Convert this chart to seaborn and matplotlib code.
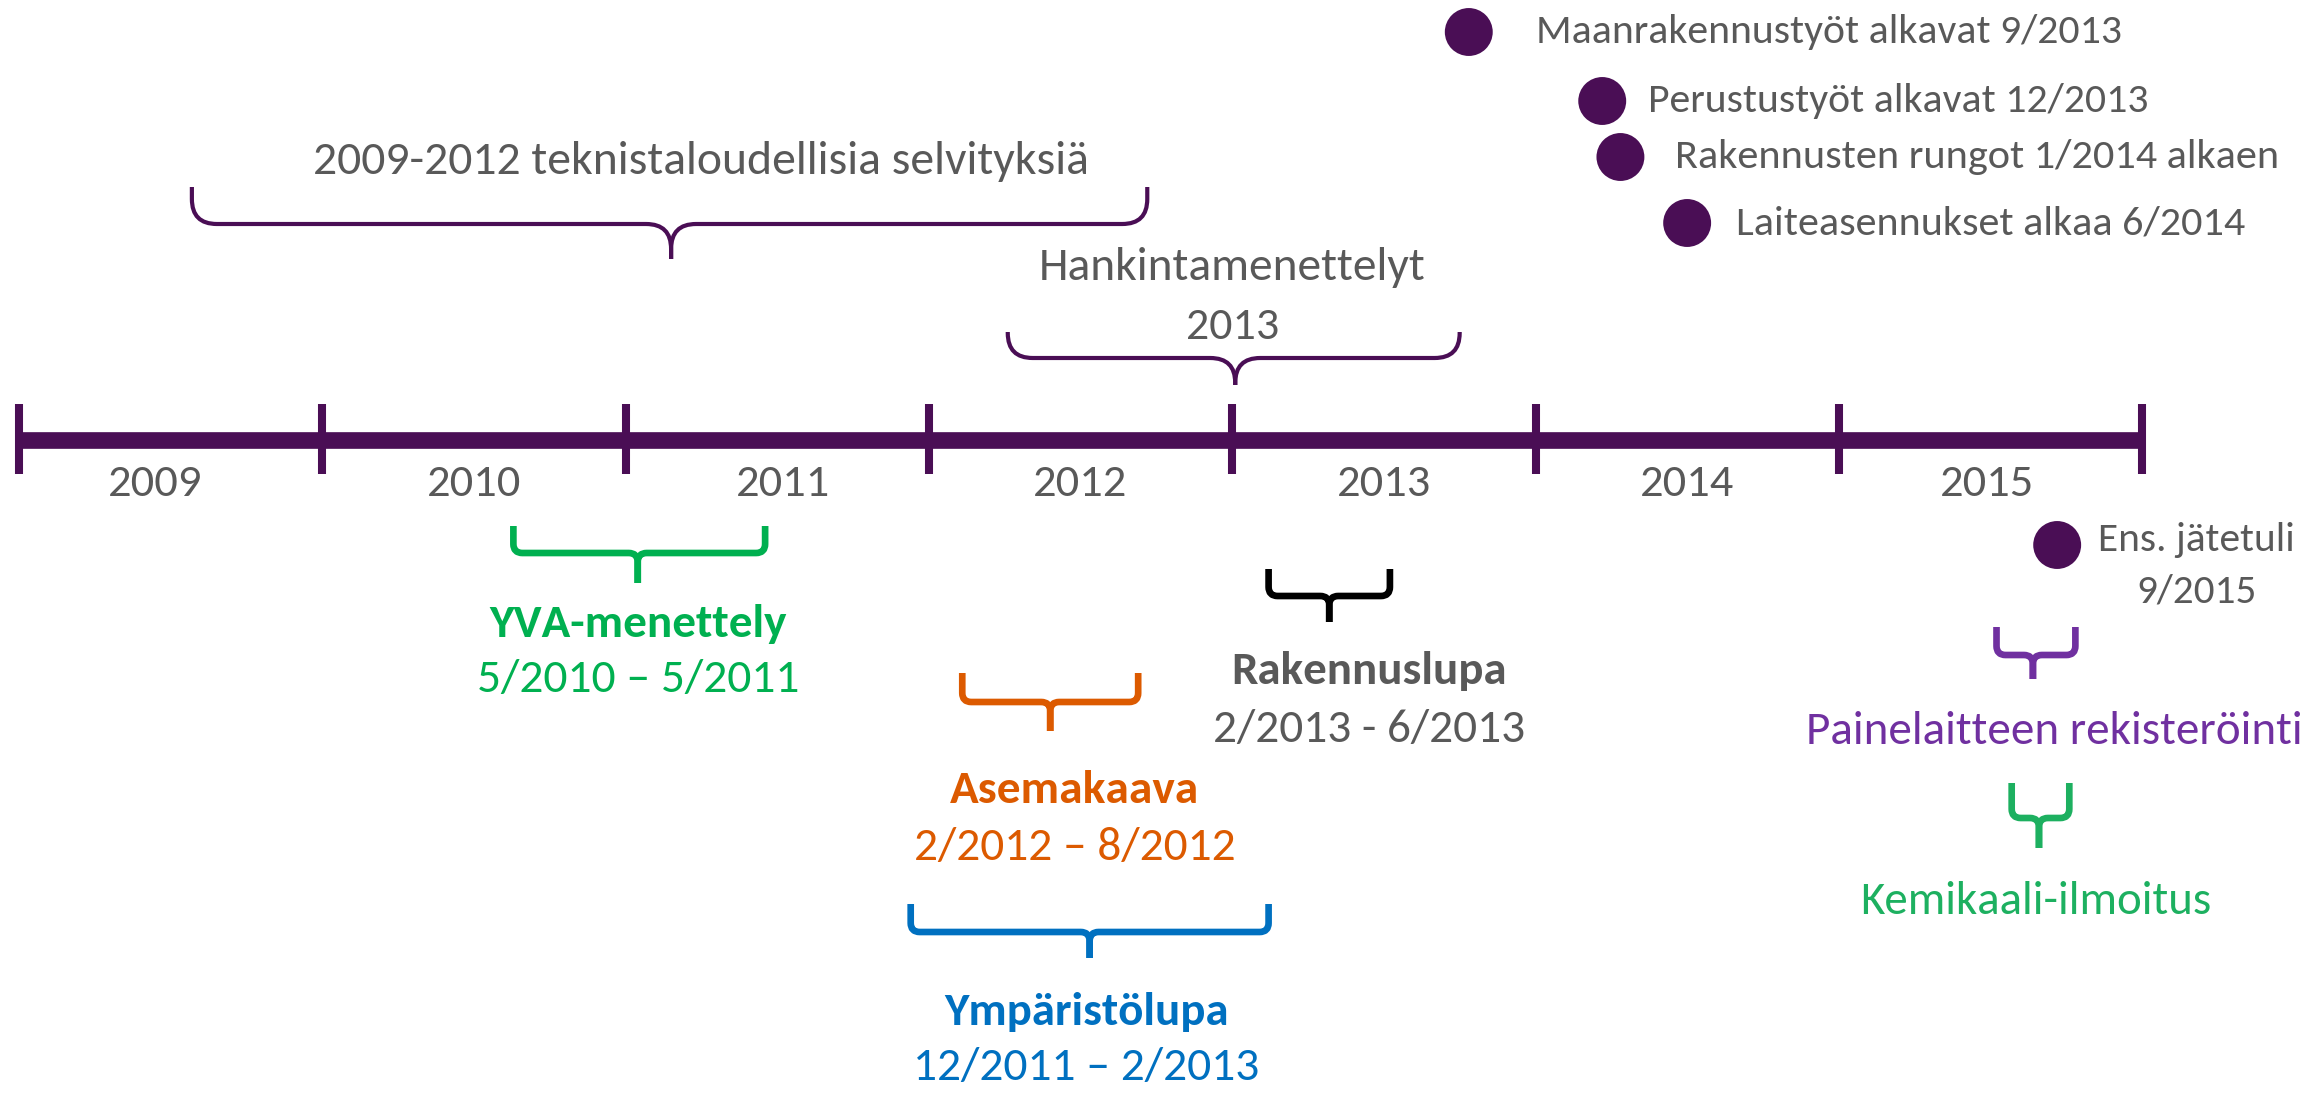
import matplotlib
matplotlib.use("Agg")
import matplotlib.pyplot as plt
from matplotlib.path import Path
from matplotlib.patches import PathPatch
from matplotlib import font_manager
import seaborn as sns

# timeline years and their labels
years = [2009, 2010, 2011, 2012, 2013, 2014, 2015]
year_label_x = [2009.45, 2010.5, 2011.52, 2012.5, 2013.5, 2014.5, 2015.49]

# milestones shown as dots
events = ["Maanrakennustyöt alkavat 9/2013", "Perustustyöt alkavat 12/2013",
          "Rakennusten rungot 1/2014 alkaen", "Laiteasennukset alkaa 6/2014",
          "Ens. jätetuli\n9/2015"]
event_x = [2013.78, 2014.22, 2014.28, 2014.50, 2015.72]
event_label_x = [2014.00, 2014.37, 2014.46, 2014.66, 2016.18]

# phases drawn as braces
phases = ["2009-2012 teknistaloudellisia selvityksiä", "Hankintamenettelyt\n2013",
          "YVA-menettely", "Rakennuslupa", "Asemakaava", "Ympäristölupa",
          "Painelaitteen rekisteröinti", "Kemikaali-ilmoitus"]
phase_dates = ["", "", "5/2010 – 5/2011", "2/2013 - 6/2013", "2/2012 – 8/2012",
               "12/2011 – 2/2013", "", ""]
phase_start = [2009.57, 2012.26, 2010.63, 2013.12, 2012.11, 2011.94, 2015.52, 2015.57]
phase_end = [2012.72, 2013.75, 2011.46, 2013.52, 2012.69, 2013.12, 2015.78, 2015.76]
phase_tip = [2011.15, 2013.01, 2011.04, 2013.32, 2012.40, 2012.53, 2015.64, 2015.66]
phase_text_x = [2011.25, 2013.00, 2011.04, 2013.45, 2012.48, 2012.52, 2015.71, 2015.65]

# ---- layout / style ----
W, H, DPI = 2306, 1093, 100
PPY = 303.3          # pixels per year on the timeline
X0_PX = 19           # pixel position of 2009
LINE_Y = 440
event_rows = [32, 101, 157, 223, 545]
brace_rows = [(187, 224, 259), (332, 358, 385), (526, 553, 583), (569, 596, 622),
              (673, 702, 731), (904, 932, 958), (627, 655, 679), (783, 818, 848)]
text_rows = [(162, None), (268, None), (624, 680), (671, 729), (790, 847),
             (1012, 1068), (732, None), (901, None)]
# text widths in pixels, as measured on the reference
year_w = 94
event_w = [586, 500, 604, 509, (197, 120)]
phase_w = [776, (387, 93), 297, 274, 248, 284, 497, 351]
date_w = [0, 0, 322, 312, 321, 346, 0, 0]

purple = "#4A0E55"
gray = "#595959"
brace_colors = [purple, purple, "#00B050", "#000000", "#DC5A00", "#0070C0", "#7030A0", "#1DB060"]
text_colors = [gray, gray, "#00B050", gray, "#DC5A00", "#0070C0", "#7030A0", "#1DB060"]
bold_title = [False, False, True, True, True, True, False, False]
rounded = [True, True, False, False, False, False, False, False]

sns.set_theme(style="white")
avail = {f.name for f in font_manager.fontManager.ttflist}
font = next(f for f in ["Carlito", "Lato", "Open Sans", "DejaVu Sans"] if f in avail)
plt.rcParams["font.family"] = [font, "DejaVu Sans"]

fig = plt.figure(figsize=(W / DPI, H / DPI), dpi=DPI)
ax = fig.add_axes([0, 0, 1, 1])
ax.set_xlim(2009 - X0_PX / PPY, 2009 + (W - X0_PX) / PPY)
ax.set_ylim(H, 0)
ax.set_axis_off()
renderer = fig.canvas.get_renderer()


def fitted_text(x, y, s, width, **kw):
    t = ax.text(x, y, s, va="center", fontsize=30, **kw)
    w = t.get_window_extent(renderer).width
    t.set_fontsize(30 * width / w)
    return t


def stacked_text(x, y, s, widths, gap, **kw):
    for k, line in enumerate(s.split("\n")):
        fitted_text(x, y + k * gap, line, widths[k], **kw)


def brace(x0, x1, xt, top, mid, tip, r, color, lw):
    rx = r / PPY
    codes = [Path.MOVETO, Path.LINETO, Path.CURVE3, Path.CURVE3,
             Path.LINETO, Path.CURVE3, Path.CURVE3, Path.LINETO]
    for xs, sgn in ((x0, 1), (x1, -1)):
        verts = [(xs, top), (xs, mid - r), (xs, mid), (xs + sgn * rx, mid),
                 (xt - sgn * rx, mid), (xt, mid), (xt, mid + r), (xt, tip)]
        ax.add_patch(PathPatch(Path(verts, codes), fill=False, edgecolor=color,
                               lw=lw, capstyle="butt", joinstyle="round"))


# timeline bar and year ticks
sns.lineplot(x=[years[0], years[-1] + 1], y=[LINE_Y, LINE_Y], color=purple,
             lw=12, ax=ax, solid_capstyle="butt")
ax.vlines(years + [years[-1] + 1], LINE_Y - 36, LINE_Y + 34, color=purple, lw=5.8)
ref = fitted_text(year_label_x[0], 484, str(years[0]), year_w, ha="center", color=gray)
for lx, yr in zip(year_label_x[1:], years[1:]):
    ax.text(lx, 484, str(yr), ha="center", va="center", fontsize=ref.get_fontsize(), color=gray)

# milestone dots
sns.scatterplot(x=event_x, y=event_rows, s=1190, color=purple, edgecolor="none",
                ax=ax, legend=False)
for lab, lx, ry, w in zip(events, event_label_x, event_rows, event_w):
    if "\n" in lab:
        stacked_text(lx, ry - 5, lab, w, 52, ha="center", color=gray)
    else:
        fitted_text(lx, ry, lab, w, ha="left", color=gray)

# phase braces and labels
for i, name in enumerate(phases):
    top, mid, tip = brace_rows[i]
    r = 25 if rounded[i] else 9
    lw = 3.0 if rounded[i] else 4.8
    brace(phase_start[i], phase_end[i], phase_tip[i], top, mid, tip, r, brace_colors[i], lw)
    ty, dy = text_rows[i]
    w = phase_w[i] if isinstance(phase_w[i], tuple) else (phase_w[i],)
    stacked_text(phase_text_x[i], ty, name, w, 59, ha="center", color=text_colors[i],
                 fontweight="bold" if bold_title[i] else "normal")
    if dy is not None:
        fitted_text(phase_text_x[i], dy, phase_dates[i], date_w[i], ha="center",
                    color=text_colors[i])

fig.savefig("out.png", dpi=DPI)
